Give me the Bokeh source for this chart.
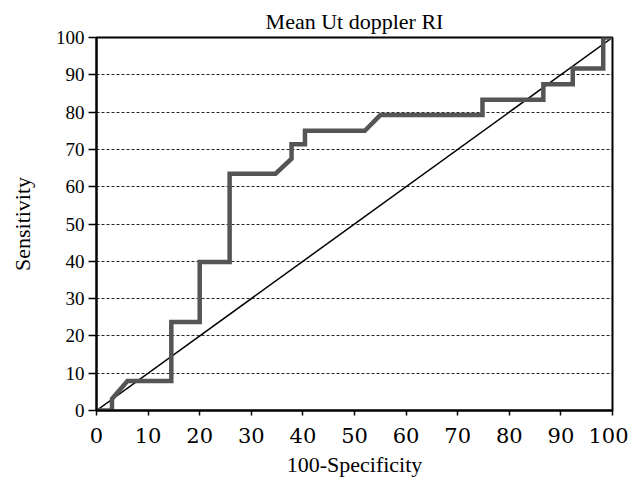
from bokeh.plotting import figure
from bokeh.models import Range1d, FixedTicker
from bokeh.embed import file_html
from bokeh.resources import INLINE

# ROC curve points (100-Specificity, Sensitivity)
spec100 = [0, 3, 3, 6, 14.5, 14.5, 20, 20, 25.8, 25.8, 34.7, 37.8, 37.8, 40.4, 40.4,
           52, 55, 74.8, 74.8, 86.6, 86.6, 92.3, 92.3, 98.2, 98.2, 100]
sensitivity = [0, 0, 3.1, 7.9, 7.9, 23.7, 23.7, 39.8, 39.8, 63.5, 63.5, 67.5, 71.4, 71.4, 75,
               75, 79.2, 79.2, 83.3, 83.3, 87.5, 87.5, 91.7, 91.7, 100, 100]
ref_x = [0, 100]
ref_y = [0, 100]
ticks = [0, 10, 20, 30, 40, 50, 60, 70, 80, 90, 100]

SERIF = "Liberation Serif"

p = figure(width=628, height=483, output_backend="svg", toolbar_location=None,
           x_range=Range1d(0, 100), y_range=Range1d(0, 100),
           min_border_left=96, min_border_right=16, min_border_top=37, min_border_bottom=73)

p.title.text = "Mean Ut doppler RI"
p.title.align = "center"
p.title.text_font = SERIF
p.title.text_font_size = "22px"
p.title.text_font_style = "normal"
p.title.text_color = "black"
p.title.standoff = 7

p.background_fill_color = "white"
p.border_fill_color = "white"
p.outline_line_color = "black"
p.outline_line_width = 2

p.xgrid.visible = False
p.ygrid.ticker = FixedTicker(ticks=ticks[1:-1])
p.ygrid.grid_line_color = "black"
p.ygrid.grid_line_dash = "3 2"
p.ygrid.grid_line_width = 1
p.ygrid.grid_line_alpha = 0.85

for ax in (p.xaxis[0], p.yaxis[0]):
    ax.ticker = FixedTicker(ticks=ticks)
    ax.axis_line_color = "black"
    ax.axis_line_width = 2
    ax.major_tick_line_color = "black"
    ax.major_tick_line_width = 1.5
    ax.major_tick_in = 0
    ax.minor_tick_line_color = None
    ax.major_label_text_font = SERIF
    ax.major_label_text_color = "black"
    ax.axis_label_text_font = SERIF
    ax.axis_label_text_font_style = "normal"
    ax.axis_label_text_font_size = "22px"
    ax.axis_label_text_color = "black"

p.yaxis.axis_label = "Sensitivity"
p.yaxis.major_tick_out = 8
p.yaxis.major_label_text_font_size = "19px"
p.yaxis.major_label_standoff = 4
p.yaxis.axis_label_standoff = 18

p.xaxis.axis_label = "100-Specificity"
p.xaxis.major_tick_out = 5
p.xaxis.major_label_text_font = "DejaVu Serif"
p.xaxis.major_label_text_font_size = "21px"
p.xaxis.major_label_standoff = 12
p.xaxis.axis_label_standoff = 6

p.line(ref_x, ref_y, line_color="black", line_width=1.5)
p.line(spec100, sensitivity, line_color="#555555", line_width=4.5, line_join="miter")

open("out.html", "w").write(file_html(p, INLINE))
